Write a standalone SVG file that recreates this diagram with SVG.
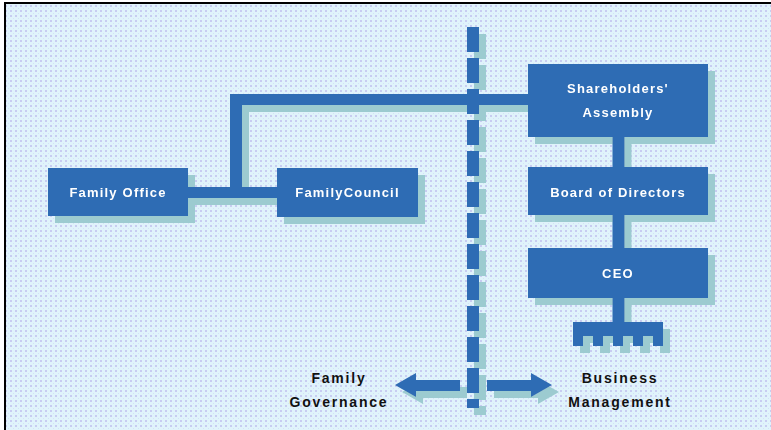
<svg xmlns="http://www.w3.org/2000/svg" width="771" height="430" viewBox="0 0 771 430">
<style>
.box{fill:#2f6cb4}
.lbl{fill:#ffffff;font-family:"Liberation Sans",Arial,sans-serif;font-weight:bold;font-size:13px;letter-spacing:1.2px;text-anchor:middle}
.side{fill:#111111;font-family:"Liberation Sans",Arial,sans-serif;font-weight:bold;font-size:14px;letter-spacing:1.8px;text-anchor:middle}
.conn{fill:none;stroke:#2f6cb4;stroke-linejoin:miter}
</style>
<defs>
<pattern id="bg" width="5" height="5" patternUnits="userSpaceOnUse">
<rect width="5" height="5" fill="#e0f3fb"/>
<rect x="0" y="0" width="2" height="2" fill="#c8ccf1"/>
<rect x="3" y="3" width="1" height="1" fill="#d3e2f6"/>
</pattern>
<filter id="sh" x="-10%" y="-10%" width="130%" height="130%">
<feOffset in="SourceAlpha" dx="7" dy="7" result="o"/>
<feFlood flood-color="#9ccbd0"/>
<feComposite in2="o" operator="in" result="s"/>
<feMerge><feMergeNode in="s"/><feMergeNode in="SourceGraphic"/></feMerge>
</filter>
</defs>
<rect x="0" y="0" width="771" height="430" fill="#ffffff"/>
<rect x="5" y="3" width="766" height="427" fill="url(#bg)"/>
<path d="M5,430 V3 H771" fill="none" stroke="#000" stroke-width="2"/>
<g filter="url(#sh)">
<g id="connectors">
<path class="conn" stroke-width="11" d="M188,192.5 H277"/>
<path class="conn" stroke-width="12" d="M236,192 V99.5"/>
<path class="conn" stroke-width="11" d="M230,99.5 H528"/>
<path class="conn" stroke-width="12" d="M618.5,137 V167 M618.5,215 V248 M618.5,298 V322"/>
<line class="conn" x1="473" y1="27" x2="473" y2="408" stroke-width="12" stroke-dasharray="25 6"/>
<path d="M395,385 L416,373 L416,380 L460,380 L460,391 L416,391 L416,397 Z" fill="#2f6cb4"/>
<path d="M552,385 L531,373 L531,380 L487,380 L487,391 L531,391 L531,397 Z" fill="#2f6cb4"/>
<path d="M573,322 H663 V346 H653 V336 H643 V346 H633 V336 H623 V346 H613 V336 H603 V346 H593 V336 H583 V346 H573 Z" fill="#2f6cb4"/>
</g>
<g id="family-office"><rect class="box" x="48" y="168" width="140" height="48"/><text class="lbl" x="118" y="197">Family Office</text></g>
<g id="family-council"><rect class="box" x="277" y="168" width="141" height="49"/><text class="lbl" x="347.5" y="197">FamilyCouncil</text></g>
<g id="shareholders-assembly"><rect class="box" x="528" y="64" width="180" height="73"/><text class="lbl" x="618" y="93">Shareholders'</text><text class="lbl" x="618" y="117">Assembly</text></g>
<g id="board-of-directors"><rect class="box" x="528" y="167" width="180" height="48"/><text class="lbl" x="618" y="197">Board of Directors</text></g>
<g id="ceo"><rect class="box" x="528" y="248" width="180" height="50"/><text class="lbl" x="618" y="278">CEO</text></g>
</g>
<g id="family-governance"><text class="side" x="339" y="383">Family</text><text class="side" x="339" y="407">Governance</text></g>
<g id="business-management"><text class="side" x="620" y="383">Business</text><text class="side" x="620" y="407">Management</text></g>
</svg>
